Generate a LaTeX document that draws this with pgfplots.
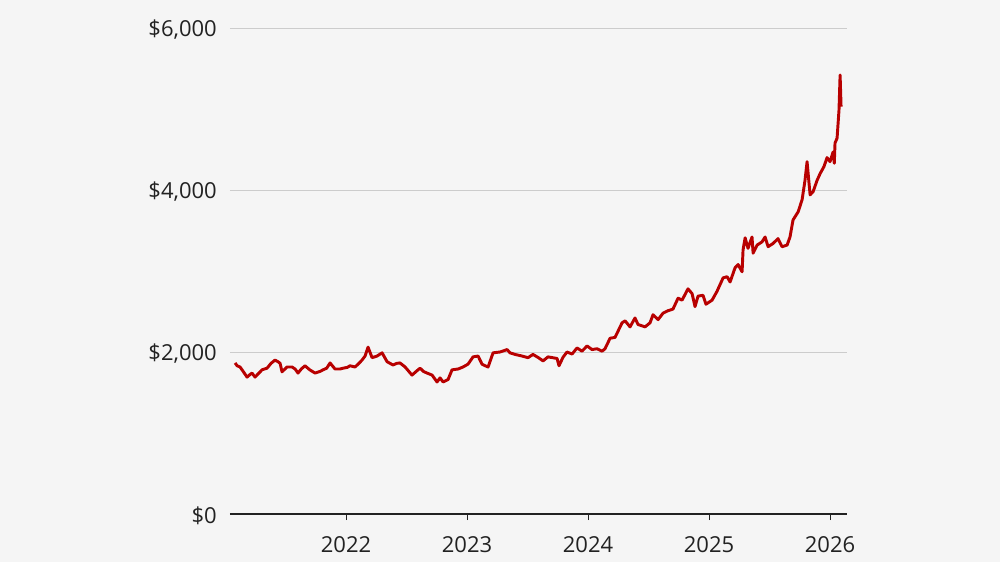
\documentclass[border=0pt]{standalone}
\usepackage{pgfplots}
\pgfplotsset{compat=1.18}
\usepackage{fontspec}
\setmainfont{Open Sans}
\definecolor{bg}{HTML}{F5F5F5}
\definecolor{bbcred}{HTML}{B80000}
\definecolor{gridc}{HTML}{CCCCCC}
\definecolor{txt}{HTML}{222222}
\pgfplotstableread{
t v
2021.083 1865
2021.100 1830
2021.124 1815
2021.150 1760
2021.182 1690
2021.205 1720
2021.223 1740
2021.248 1690
2021.280 1740
2021.306 1780
2021.347 1800
2021.380 1860
2021.413 1900
2021.438 1880
2021.455 1860
2021.471 1755
2021.512 1815
2021.554 1815
2021.579 1790
2021.603 1740
2021.630 1790
2021.661 1830
2021.700 1780
2021.744 1740
2021.785 1760
2021.810 1780
2021.840 1800
2021.868 1865
2021.909 1790
2021.950 1790
2021.975 1800
2022.010 1810
2022.033 1830
2022.074 1815
2022.100 1850
2022.132 1900
2022.157 1950
2022.182 2060
2022.215 1930
2022.256 1950
2022.298 1990
2022.339 1880
2022.388 1840
2022.420 1860
2022.446 1865
2022.488 1815
2022.545 1715
2022.595 1780
2022.612 1800
2022.640 1760
2022.669 1740
2022.711 1715
2022.752 1630
2022.777 1680
2022.802 1630
2022.843 1660
2022.876 1780
2022.926 1790
2022.967 1815
2023.008 1850
2023.050 1940
2023.091 1950
2023.124 1850
2023.150 1830
2023.174 1815
2023.215 1990
2023.273 2000
2023.331 2030
2023.355 1990
2023.397 1970
2023.455 1950
2023.504 1930
2023.545 1970
2023.590 1930
2023.628 1890
2023.669 1940
2023.744 1920
2023.760 1830
2023.793 1935
2023.826 2000
2023.868 1975
2023.909 2050
2023.950 2010
2023.992 2075
2024.033 2030
2024.074 2040
2024.116 2010
2024.140 2040
2024.182 2170
2024.223 2180
2024.281 2360
2024.306 2385
2024.347 2310
2024.388 2420
2024.413 2340
2024.471 2310
2024.512 2360
2024.537 2460
2024.579 2400
2024.620 2480
2024.661 2510
2024.702 2530
2024.744 2665
2024.777 2640
2024.826 2780
2024.860 2720
2024.884 2560
2024.909 2690
2024.950 2700
2024.975 2590
2025.025 2640
2025.066 2750
2025.116 2915
2025.149 2930
2025.174 2865
2025.215 3040
2025.240 3080
2025.273 2990
2025.281 3260
2025.298 3410
2025.322 3280
2025.355 3420
2025.364 3220
2025.397 3320
2025.438 3360
2025.463 3420
2025.488 3300
2025.529 3340
2025.570 3400
2025.603 3300
2025.645 3320
2025.669 3420
2025.694 3630
2025.736 3730
2025.769 3880
2025.793 4120
2025.810 4350
2025.835 3940
2025.860 3980
2025.893 4120
2025.917 4200
2025.950 4290
2025.975 4400
2026.000 4350
2026.025 4470
2026.035 4330
2026.041 4580
2026.058 4640
2026.074 4990
2026.083 5420
2026.091 5030
}\gold
\begin{document}
\begin{tikzpicture}
\fill[bg] (-172.5pt,-36pt) rectangle (577.5pt,385.5pt);
\begin{axis}[
  at={(0pt,0pt)}, anchor=origin,
  scale only axis, width=462.75pt, height=364.5pt,
  xmin=2021.041, xmax=2026.14, ymin=0, ymax=6000,
  axis x line*=bottom, axis y line*=left,
  x axis line style={draw=txt, line width=2.2pt, -},
  y axis line style={draw=none},
  ytick={0,2000,4000,6000},
  yticklabels={{\$0},{\$2,000},{\$4,000},{\$6,000}},
  ymajorgrids, grid style={gridc, line width=0.75pt},
  ytick style={draw=none},
  yticklabel style={font=\fontsize{16.5}{18}\selectfont, text=txt, anchor=east, inner sep=0pt, xshift=-9.75pt, yshift=-1.5pt},
  xtick={2022,2023,2024,2025,2026},
  xticklabels={2022,2023,2024,2025,2026},
  xtick align=outside, major tick length=4.5pt,
  xtick style={draw=txt, line width=0.75pt},
  xticklabel style={font=\fontsize{16.5}{18}\selectfont, text=txt, anchor=north, inner sep=0pt, yshift=-12.5pt},
  clip=false,
]
\addplot[bbcred, line width=2.2pt, line join=round] table[x=t, y=v] {\gold};
\end{axis}
\end{tikzpicture}
\end{document}
